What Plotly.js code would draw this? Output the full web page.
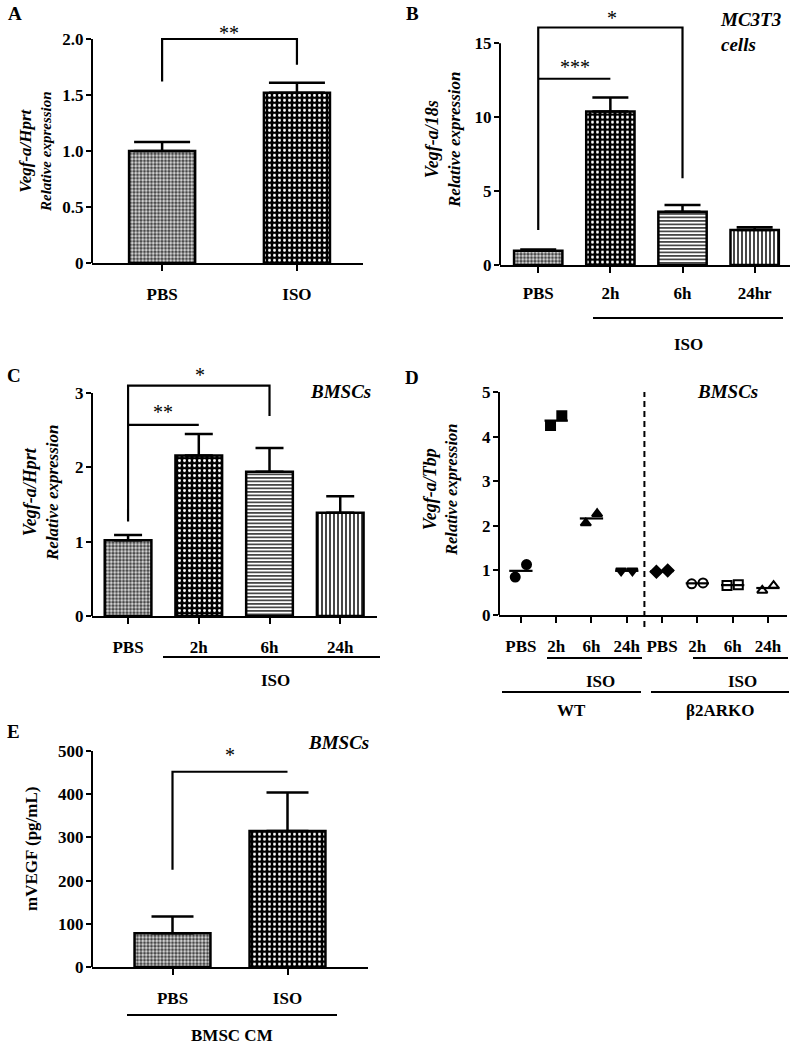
<!DOCTYPE html>
<html><head><meta charset="utf-8">
<script src="https://cdn.plot.ly/plotly-3.0.1.min.js"></script>
<style>html,body{margin:0;padding:0;background:#fff}#chart{width:795px;height:1050px}</style>
</head><body><div id="chart"></div>
<script>
// ---------------- DATA ----------------
const catsA = ['PBS', 'ISO'];
const valsA = [1.00, 1.52];
const errA  = [0.08, 0.09];

const catsB = ['PBS', '2h', '6h', '24hr'];
const valsB = [0.97, 10.38, 3.60, 2.37];
const errB  = [0.08, 0.95, 0.46, 0.18];

const catsC = ['PBS', '2h', '6h', '24h'];
const valsC = [1.02, 2.16, 1.94, 1.39];
const errC  = [0.07, 0.29, 0.32, 0.22];

const catsD  = ['PBS', '2h', '6h', '24h', 'PBS', '2h', '6h', '24h'];
const dRep1  = [0.85, 4.25, 2.06, 0.99, 0.97, 0.70, 0.66, 0.55];
const dRep2  = [1.13, 4.47, 2.27, 0.99, 1.00, 0.72, 0.68, 0.66];
const dSymbols = ['circle', 'square', 'triangle-up', 'triangle-down',
                  'diamond', 'circle-open', 'square-open', 'triangle-up-open'];

const catsE = ['PBS', 'ISO'];
const valsE = [78, 315];
const errE  = [39, 89];

// significance brackets (data units)
const brA  = {x: ['PBS', 'PBS', 'ISO', 'ISO'], y: [1.62, 2.0, 2.0, 1.77]};
const brB1 = {x: ['PBS', 'PBS', '6h', '6h'], y: [2.37, 16.07, 16.07, 5.87]};
const brB2 = {x: ['PBS', '2h'], y: [12.6, 12.6]};
const brC1 = {x: ['PBS', 'PBS', '6h', '6h'], y: [1.27, 3.10, 3.10, 2.69]};
const brC2 = {x: ['PBS', '2h'], y: [2.57, 2.57]};
const brE  = {x: ['PBS', 'PBS', 'ISO'], y: [225, 452, 452]};

// ---------------- STYLE ----------------
const W = 795, H = 1050;
const FONT = 'Liberation Serif, Times New Roman, serif';
const px = x => x / W;
const py = y => 1 - y / H;
function yDom(p0, p1, v1, R) { const top = p0 - (p0 - p1) * R / v1; return [py(p0), py(top)]; }

const PAT = {
  fine:   {shape: '.', bg: '#3c3c3c', fg: '#d0d0d0', size: 3.5, sol: 0.55},
  coarse: {shape: '.', bg: '#000000', fg: '#ffffff', size: 5, sol: 0.28},
  hl:     {shape: '-', bg: '#ffffff', fg: '#333333', size: 3.5, sol: 0.45},
  vl:     {shape: '|', bg: '#ffffff', fg: '#333333', size: 4, sol: 0.45}
};
function pattern(keys) {
  return {
    shape: keys.map(k => PAT[k].shape),
    bgcolor: keys.map(k => PAT[k].bg),
    fgcolor: keys.map(k => PAT[k].fg),
    size: keys.map(k => PAT[k].size),
    solidity: keys.map(k => PAT[k].sol),
    fillmode: 'replace'
  };
}

function barTrace(cats, vals, errs, xa, ya, width, capw, pats) {
  return {
    type: 'bar', x: cats, y: vals, xaxis: xa, yaxis: ya, width: width,
    marker: {color: '#ffffff', line: {color: '#000', width: 2.5}, pattern: pattern(pats)},
    error_y: {type: 'data', symmetric: false, array: errs, arrayminus: errs.map(() => 0),
              color: '#000', thickness: 2.5, width: capw},
    hoverinfo: 'skip', showlegend: false
  };
}
function brTrace(br, xa, ya) {
  return {type: 'scatter', mode: 'lines', x: br.x, y: br.y, xaxis: xa, yaxis: ya,
          line: {color: '#000', width: 2.2}, hoverinfo: 'skip', showlegend: false, cliponaxis: false};
}

const traces = [];
traces.push(barTrace(catsA, valsA, errA, 'x', 'y', 0.49, 28, ['fine', 'coarse']));
traces.push(brTrace(brA, 'x', 'y'));
traces.push(barTrace(catsB, valsB, errB, 'x2', 'y2', 0.67, 18, ['fine', 'coarse', 'hl', 'vl']));
traces.push(brTrace(brB1, 'x2', 'y2'));
traces.push(brTrace(brB2, 'x2', 'y2'));
traces.push(barTrace(catsC, valsC, errC, 'x3', 'y3', 0.66, 14, ['fine', 'coarse', 'hl', 'vl']));
traces.push(brTrace(brC1, 'x3', 'y3'));
traces.push(brTrace(brC2, 'x3', 'y3'));
traces.push(barTrace(catsE, valsE, errE, 'x5', 'y5', 0.66, 21, ['fine', 'coarse']));
traces.push(brTrace(brE, 'x5', 'y5'));

// Panel D: mean lines + replicate points
const dIdx = catsD.map((c, i) => i);
const meanX = [], meanY = [];
dIdx.forEach(i => {
  const m = (dRep1[i] + dRep2[i]) / 2;
  meanX.push(i - 0.33, i + 0.33, null);
  meanY.push(m, m, null);
});
traces.push({type: 'scatter', mode: 'lines', x: meanX, y: meanY, xaxis: 'x4', yaxis: 'y4',
             line: {color: '#000', width: 2.2}, hoverinfo: 'skip', showlegend: false});
const off = 0.16;
traces.push({type: 'scatter', mode: 'markers',
             x: dIdx.map(i => i - off).concat(dIdx.map(i => i + off)),
             y: dRep1.concat(dRep2), xaxis: 'x4', yaxis: 'y4',
             marker: {symbol: dSymbols.concat(dSymbols), size: 9, color: '#000',
                      line: {color: '#000', width: 2}},
             hoverinfo: 'skip', showlegend: false, cliponaxis: false});

// ---------------- AXES ----------------
const tickFont = {family: FONT, size: 17, color: '#000', weight: 700};
function xAx(domain, anchor, range, extra) {
  return Object.assign({domain: domain, anchor: anchor, range: range, showline: true, linewidth: 2,
    linecolor: '#000', ticks: 'outside', ticklen: 6, tickwidth: 2, tickcolor: '#000',
    showgrid: false, zeroline: false, tickfont: tickFont, ticklabelstandoff: 9, fixedrange: true}, extra || {});
}
function yAx(domain, anchor, range, tv, tt) {
  return {domain: domain, anchor: anchor, range: range, showline: false, ticks: 'outside',
    ticklen: 5, tickwidth: 2, tickcolor: '#000', showgrid: false, zeroline: false,
    tickvals: tv, ticktext: tt, tickfont: tickFont, ticklabelstandoff: -1, fixedrange: true};
}

const layout = {
  width: W, height: H, margin: {l: 0, r: 0, t: 0, b: 0},
  paper_bgcolor: '#fff', plot_bgcolor: 'rgba(0,0,0,0)', showlegend: false,
  font: {family: FONT, color: '#000'},
  xaxis:  xAx([px(92), px(363)], 'y', [-0.52, 1.49], {type: 'category', categoryarray: catsA}),
  yaxis:  yAx(yDom(263, 39, 2.0, 2.1), 'x', [0, 2.1], [0, 0.5, 1, 1.5, 2], ['0', '0.5', '1.0', '1.5', '2.0']),
  xaxis2: xAx([px(500), px(790)], 'y2', [-0.53, 3.49], {type: 'category', categoryarray: catsB, ticklabelstandoff: 6}),
  yaxis2: yAx(yDom(265, 43.3, 15, 16.6), 'x2', [0, 16.6], [0, 5, 10, 15], ['0', '5', '10', '15']),
  xaxis3: xAx([px(92), px(377)], 'y3', [-0.51, 3.52], {type: 'category', categoryarray: catsC}),
  yaxis3: yAx(yDom(616, 393, 3, 3.2), 'x3', [0, 3.2], [0, 1, 2, 3], ['0', '1', '2', '3']),
  xaxis4: xAx([px(499), px(787)], 'y4', [-0.62, 7.54], {tickvals: dIdx, ticktext: catsD}),
  yaxis4: yAx(yDom(615, 392, 5, 5.1), 'x4', [0, 5.1], [0, 1, 2, 3, 4, 5], ['0', '1', '2', '3', '4', '5']),
  xaxis5: xAx([px(92), px(368)], 'y5', [-0.70, 1.70], {type: 'category', categoryarray: catsE}),
  yaxis5: yAx(yDom(967, 751, 500, 510), 'x5', [0, 510], [0, 100, 200, 300, 400, 500], ['0', '100', '200', '300', '400', '500']),
  bargap: 0.3
};

// shapes: y-axis lines, dashed divider, group underlines
const lineStyle = {color: '#000', width: 2};
const shapes = [
  {type: 'line', xref: 'x domain', yref: 'y', x0: 0, x1: 0, y0: 0, y1: 2.0, line: lineStyle},
  {type: 'line', xref: 'x2 domain', yref: 'y2', x0: 0, x1: 0, y0: 0, y1: 15, line: lineStyle},
  {type: 'line', xref: 'x3 domain', yref: 'y3', x0: 0, x1: 0, y0: 0, y1: 3, line: lineStyle},
  {type: 'line', xref: 'x4 domain', yref: 'y4', x0: 0, x1: 0, y0: 0, y1: 5, line: lineStyle},
  {type: 'line', xref: 'x5 domain', yref: 'y5', x0: 0, x1: 0, y0: 0, y1: 500, line: lineStyle},
  {type: 'line', xref: 'x4', yref: 'paper', x0: 3.5, x1: 3.5, y0: py(627), y1: py(392),
   line: {color: '#000', width: 2, dash: '6px,4px'}}
];
const underlines = [[593, 783, 318], [163, 380, 657], [547, 642, 658], [693, 788, 658],
                    [502, 641, 692], [651, 789, 692], [127, 337, 1015]];
underlines.forEach(u => shapes.push({type: 'line', xref: 'paper', yref: 'paper',
  x0: px(u[0]), x1: px(u[1]), y0: py(u[2]), y1: py(u[2]), line: {color: '#000', width: 2}}));
layout.shapes = shapes;

// annotations
const ann = [];
function txt(text, x, y, size, opts, weight) {
  ann.push(Object.assign({text: text, xref: 'paper', yref: 'paper', x: px(x), y: py(y),
    xanchor: 'center', yanchor: 'middle', showarrow: false,
    font: {family: FONT, size: size, color: '#000', weight: weight || 700}}, opts || {}));
}
// panel letters
txt('A', 15, 14, 19); txt('B', 412, 14, 19); txt('C', 14, 376, 19); txt('D', 412, 377, 19); txt('E', 13, 731, 19);
// significance stars
txt('**', 229, 33, 20, {}, 400); txt('*', 612, 18, 20, {}, 400); txt('***', 575, 67, 20, {}, 400);
txt('*', 200, 375, 20, {}, 400); txt('**', 163, 412, 20, {}, 400); txt('*', 230, 755, 20, {}, 400);
// cell labels
txt('<i>MC3T3</i><br><i>cells</i>', 718, 32, 19, {xanchor: 'left', align: 'left'});
txt('<i>BMSCs</i>', 340, 392, 19); txt('<i>BMSCs</i>', 727, 392, 19); txt('<i>BMSCs</i>', 338, 742, 19);
// group labels
txt('ISO', 688, 345, 17); txt('ISO', 275, 680, 17); txt('ISO', 600, 681, 17); txt('ISO', 742, 681, 17);
txt('WT', 571, 710, 17); txt('β2ARKO', 720, 710, 17); txt('BMSC CM', 232, 1035, 17);
// y-axis titles (two lines: gene ratio, then "Relative expression")
function ytitle(gene, x, y, s1, s2) {
  txt('<i><span style="font-size:' + s1 + 'px">' + gene + '</span></i><br><i>Relative expression</i>',
      x, y, s2, {textangle: -90});
}
ytitle('Vegf-a/Hprt', 35, 152, 17, 15);
ytitle('Vegf-a/18s', 443, 140, 18, 17);
ytitle('Vegf-a/Hprt', 41, 493, 18, 17);
ytitle('Vegf-a/Tbp', 440, 490, 18, 16.5);
txt('mVEGF (pg/mL)', 31, 849, 17, {textangle: -90});
layout.annotations = ann;

Plotly.newPlot('chart', traces, layout, {staticPlot: true, displayModeBar: false});
</script>
</body></html>
